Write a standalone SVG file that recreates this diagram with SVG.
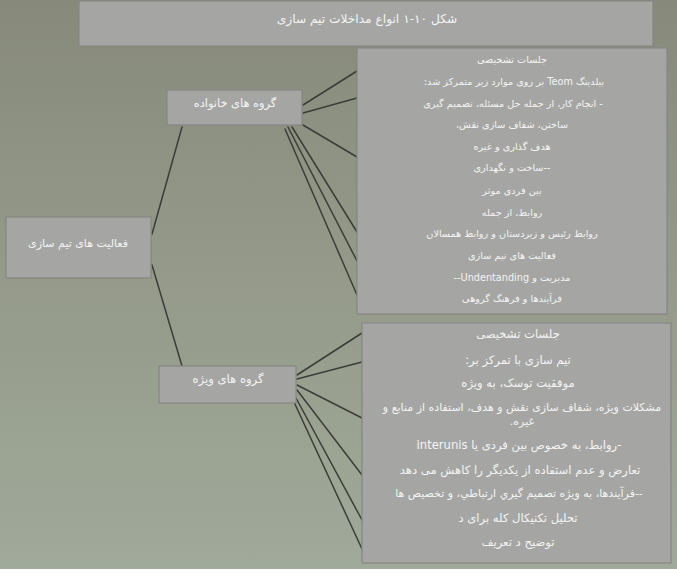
<svg xmlns="http://www.w3.org/2000/svg" width="677" height="584" viewBox="0 0 677 584">
<defs>
<linearGradient id="bg" x1="0" y1="0" x2="0" y2="1">
<stop offset="0" stop-color="#878a7b"/>
<stop offset="0.5" stop-color="#959a8a"/>
<stop offset="1" stop-color="#a0aa9a"/>
</linearGradient>
<style>
.box{fill:#a5a6a3;stroke:#858683;stroke-width:1.2}
.t{font-family:"DejaVu Sans",sans-serif;fill:#f4f4f4;text-anchor:middle}
.s{font-size:9.7px}
.m{font-size:11px}
.b{font-size:11.6px}
.r{direction:rtl;unicode-bidi:embed}
.c line{stroke:#3b3e36;stroke-width:1.5;stroke-linecap:round}
</style>
</defs>
<rect x="0" y="0" width="677" height="584" fill="#ffffff"/>
<rect x="0" y="0" width="677" height="569" fill="url(#bg)"/>

<g id="title">
<rect class="box" x="79" y="1" width="574" height="45"/>
<text class="t r" style="font-size:12.2px" x="367" y="23">شکل ١٠-١ انواع مداخلات تیم سازی</text>
</g>

<g class="c" id="connectors">
<line x1="152" y1="234" x2="182" y2="127"/>
<line x1="152" y1="265" x2="182" y2="366"/>
<line x1="303" y1="105" x2="357" y2="71"/>
<line x1="303" y1="113" x2="357" y2="98"/>
<line x1="303" y1="125" x2="357" y2="157"/>
<line x1="292" y1="127" x2="357" y2="232"/>
<line x1="288" y1="127" x2="357" y2="261"/>
<line x1="285" y1="129" x2="357" y2="295"/>
<line x1="297" y1="375" x2="362" y2="333"/>
<line x1="297" y1="379" x2="362" y2="362"/>
<line x1="297" y1="385" x2="362" y2="418"/>
<line x1="297" y1="390" x2="362" y2="475"/>
<line x1="296" y1="398" x2="362" y2="520"/>
<line x1="294" y1="402" x2="362" y2="549"/>
</g>

<g id="activities">
<rect class="box" x="6" y="217" width="145" height="61"/>
<text class="t m r" x="78" y="247">فعالیت های تیم سازی</text>
</g>

<g id="family-groups">
<rect class="box" x="167" y="90" width="135" height="35"/>
<text class="t m r" style="font-size:11.4px" x="235" y="107">گروه های خانواده</text>
</g>

<g id="special-groups">
<rect class="box" x="159" y="366" width="137" height="37"/>
<text class="t m r" style="font-size:11.6px" x="228" y="383">گروه های ویژه</text>
</g>

<g id="family-details">
<rect class="box" x="357" y="48" width="310" height="266"/>
<text class="t s r" x="512" y="63">جلسات تشخیصی</text>
<text class="t s r" x="514" y="85">بیلدینگ Teom بر روی موارد زیر متمرکز شد:</text>
<text class="t s r" x="513" y="107">- انجام کار، از جمله حل مسئله، تصمیم گیری</text>
<text class="t s r" x="512" y="128">ساختن، شفاف سازی نقش،</text>
<text class="t s r" x="512" y="150">هدف گذاری و غیره</text>
<text class="t s r" x="512" y="171">--ساخت و نگهداری</text>
<text class="t s r" x="512" y="194">بین فردی موثر</text>
<text class="t s r" x="512" y="216">روابط، از جمله</text>
<text class="t s r" x="512" y="237">روابط رئیس و زیردستان و روابط همسالان</text>
<text class="t s r" x="512" y="259">فعالیت های تیم سازی</text>
<text class="t s r" x="512" y="281">مدیریت و Undentanding--</text>
<text class="t s r" x="512" y="302">فرآیندها و فرهنگ گروهی</text>
</g>

<g id="special-details">
<rect class="box" x="362" y="323" width="309" height="240"/>
<text class="t b r" x="518" y="338">جلسات تشخیصی</text>
<text class="t b r" x="518" y="364">تیم سازی با تمرکز بر:</text>
<text class="t b r" x="518" y="387">موفقیت توسک، به ویژه</text>
<text class="t m r" x="522" y="411">مشکلات ویژه، شفاف سازی نقش و هدف، استفاده از منابع و</text>
<text class="t m r" x="522" y="425">غیره.</text>
<text class="t b r" x="519" y="449">-روابط، به خصوص بین فردی یا interunis</text>
<text class="t b r" x="520" y="474">تعارض و عدم استفاده از یکدیگر را کاهش می دهد</text>
<text class="t m r" x="519" y="497">--فرآیندها، به ویژه تصمیم گیري ارتباطي، و تخصیص ها</text>
<text class="t b r" x="518" y="522">تحلیل تکنیکال کله برای د</text>
<text class="t b r" x="518" y="546">توضیح د تعریف</text>
</g>
</svg>
